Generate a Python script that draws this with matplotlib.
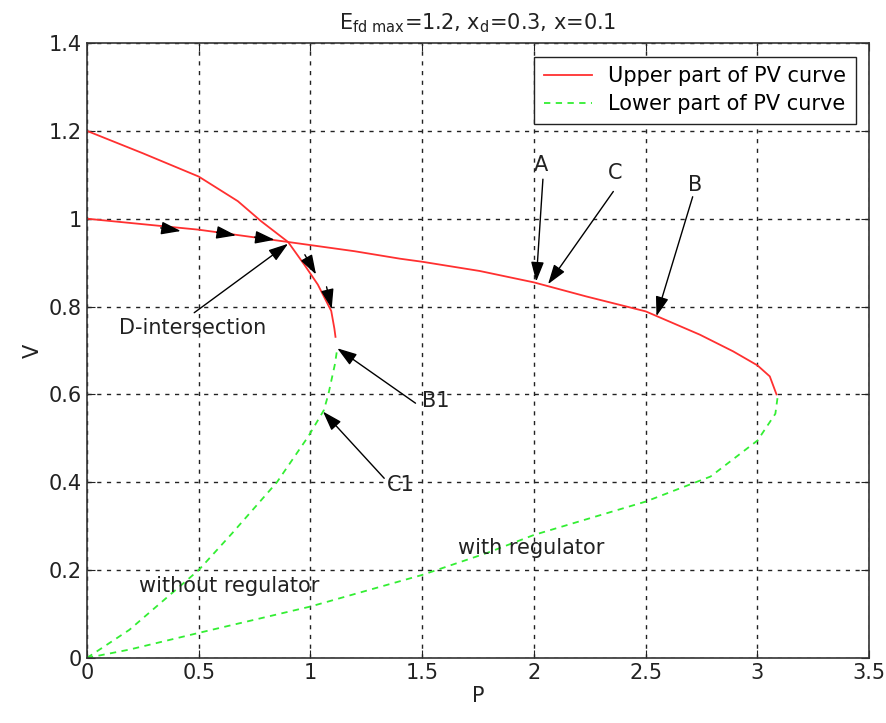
import matplotlib.pyplot as plt
import numpy as np

plt.rcParams['font.family'] = ['DejaVu Sans']

# PV curve with regulator (upper branch), from no load to the nose
p_up_reg = [0.0, 0.5, 0.9, 1.197, 1.4, 1.5, 1.757, 2.0, 2.234, 2.5, 2.742, 2.891, 3.0, 3.055, 3.085]
v_up_reg = [1.0, 0.975, 0.947, 0.926, 0.909, 0.902, 0.881, 0.855, 0.823, 0.789, 0.736, 0.698, 0.666, 0.641, 0.6]

# PV curve without regulator (upper branch)
p_up_noreg = [0.0, 0.25, 0.5, 0.675, 0.78, 0.9, 0.973, 1.033, 1.093, 1.107, 1.112]
v_up_noreg = [1.2, 1.149, 1.096, 1.04, 0.994, 0.947, 0.895, 0.85, 0.79, 0.75, 0.731]

# lower branches
p_lo_reg = [0.0, 0.19, 0.5, 1.0, 1.5, 1.79, 2.0, 2.5, 2.79, 3.0, 3.08, 3.09]
v_lo_reg = [0.0, 0.019, 0.057, 0.117, 0.189, 0.239, 0.28, 0.356, 0.413, 0.495, 0.556, 0.594]
p_lo_noreg = [0.0, 0.19, 0.5, 0.65, 0.85, 0.99, 1.06, 1.08, 1.11, 1.12]
v_lo_noreg = [0.0, 0.064, 0.2, 0.284, 0.4, 0.504, 0.564, 0.6, 0.67, 0.705]

# arrowheads marking the trajectory along the curves (tail, tip)
path_arrows = [((0.33, 0.979), (0.42, 0.972)),
               ((0.58, 0.969), (0.667, 0.962)),
               ((0.75, 0.958), (0.84, 0.952)),
               ((0.975, 0.918), (1.025, 0.873)),
               ((1.072, 0.845), (1.095, 0.795))]

# labelled arrows: text, text position, tail, tip
labels = ['D-intersection', 'B1', 'C1', 'A', 'C', 'B']
text_pos = [(0.145, 0.751), (1.5, 0.585), (1.34, 0.394), (2.0, 1.122), (2.33, 1.104), (2.69, 1.077)]
tails = [(0.48, 0.786), (1.47, 0.58), (1.33, 0.409), (2.04, 1.09), (2.355, 1.062), (2.71, 1.05)]
tips = [(0.9, 0.943), (1.12, 0.705), (1.056, 0.561), (2.01, 0.857), (2.063, 0.851), (2.548, 0.778)]

red = '#ff3030'
green = '#33ee33'
ink = '#222222'

fig = plt.figure(figsize=(8.87, 7.23), dpi=100)
ax = fig.add_axes([0.098, 0.090, 0.882, 0.8505])

ax.plot(p_up_reg, v_up_reg, color=red, lw=1.3, label='Upper part of PV curve')
ax.plot(p_lo_reg, v_lo_reg, color=green, lw=1.3, ls=(0, (3.5, 3)), label='Lower part of PV curve')
ax.plot(p_up_noreg, v_up_noreg, color=red, lw=1.3)
ax.plot(p_lo_noreg, v_lo_noreg, color=green, lw=1.3, ls=(0, (3.5, 3)))

head = '-|>,head_length=1.0,head_width=0.33'
for tail, tip in path_arrows:
    ax.annotate('', xy=tip, xytext=tail,
                arrowprops=dict(arrowstyle=head, color='k', lw=1.0, mutation_scale=12,
                                shrinkA=0, shrinkB=0))

for txt, pos, tail, tip in zip(labels, text_pos, tails, tips):
    ax.annotate('', xy=tip, xytext=tail,
                arrowprops=dict(arrowstyle=head, color='k', lw=1.0, mutation_scale=12,
                                shrinkA=0, shrinkB=0))
    ax.text(pos[0], pos[1], txt, fontsize=15, color=ink, va='center')

ax.text(0.234, 0.163, 'without regulator', fontsize=15, color=ink, va='center')
ax.text(1.66, 0.25, 'with regulator', fontsize=15, color=ink, va='center')

ax.set_xlim(0, 3.5)
ax.set_ylim(0, 1.4)
ax.set_xticks(np.arange(0, 3.51, 0.5))
ax.set_yticks(np.arange(0, 1.41, 0.2))
ax.set_xticklabels(['0', '0.5', '1', '1.5', '2', '2.5', '3', '3.5'])
ax.set_yticklabels(['0', '0.2', '0.4', '0.6', '0.8', '1', '1.2', '1.4'])
ax.tick_params(labelsize=15, direction='in', length=6, top=True, right=True, colors=ink)
ax.grid(True, color=ink, ls=(0, (3, 4)), lw=1.0)
for s in ax.spines.values():
    s.set_color('#333333')
    s.set_linewidth(1.2)

ax.set_xlabel('P', fontsize=15, color=ink, labelpad=2)
ax.set_ylabel('V', fontsize=15, color=ink)
ax.set_title(r'E$_{\mathrm{fd\ max}}$=1.2, x$_{\mathrm{d}}$=0.3, x=0.1', fontsize=15, color=ink, pad=10)

leg = ax.legend(loc='upper right', fontsize=15, fancybox=False, framealpha=1,
                edgecolor=ink, borderaxespad=0.65, handlelength=2.3,
                borderpad=0.45, labelspacing=0.4)
leg.get_frame().set_linewidth(1.0)

fig.savefig('out.png', dpi=100)
